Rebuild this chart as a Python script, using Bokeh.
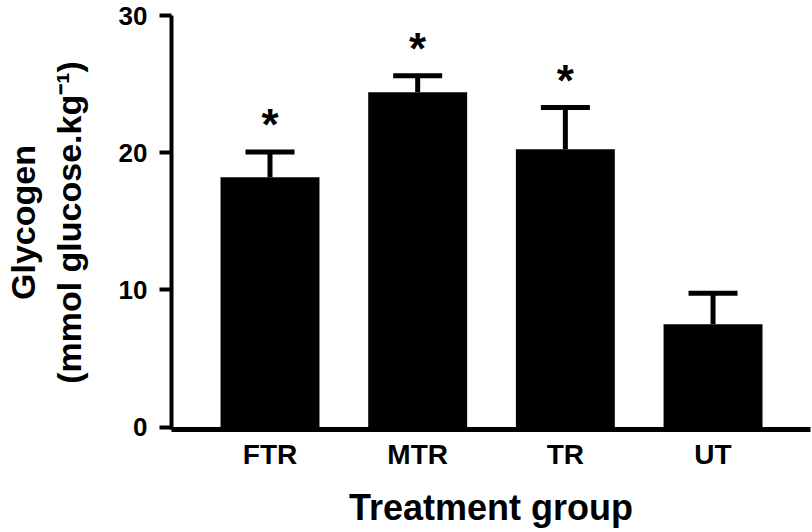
from bokeh.plotting import figure
from bokeh.models import ColumnDataSource, FixedTicker, Whisker, TeeHead, Range1d
from bokeh.core.properties import value
from bokeh.embed import file_html
from bokeh.resources import INLINE

# Data
groups = ["FTR", "MTR", "TR", "UT"]
means = [18.2, 24.4, 20.25, 7.5]
sems = [1.85, 1.2, 3.05, 2.25]
significant = [True, True, True, False]

xs = list(range(1, len(groups) + 1))
uppers = [m + s for m, s in zip(means, sems)]

src = ColumnDataSource(dict(x=xs, top=means, upper=uppers))

FONT = "Liberation Sans"

p = figure(width=812, height=532, output_backend="svg", toolbar_location=None,
           x_range=Range1d(0.333, 4.66), y_range=Range1d(-0.18, 30),
           min_border_left=171, min_border_right=2, min_border_top=15,
           min_border_bottom=103)
p.outline_line_color = None
p.xgrid.visible = False
p.ygrid.visible = False
p.background_fill_color = "white"

p.vbar(x="x", top="top", bottom=0, width=0.67, source=src,
       fill_color="black", line_color=None)

wh = Whisker(base="x", lower="top", upper="upper", source=src,
             lower_head=None,
             upper_head=TeeHead(size=49, line_width=5, line_color="black"),
             line_width=5, line_color="black")
p.add_layout(wh)

sx = [x for x, s in zip(xs, significant) if s]
sy = [u for u, s in zip(uppers, significant) if s]
p.text(x=sx, y=sy, text=["*"] * len(sx), text_align="center",
       text_baseline="alphabetic", y_offset=-27,
       text_font=value(FONT), text_font_style="bold",
       text_font_size="44px", text_color="black")

# Y axis
ya = p.yaxis[0]
ya.ticker = FixedTicker(ticks=[0, 10, 20, 30])
ya.minor_tick_line_color = None
ya.major_tick_in = 0
ya.major_tick_out = 12
ya.major_tick_line_width = 4
ya.major_tick_line_color = "black"
ya.axis_line_width = 4
ya.axis_line_color = "black"
ya.major_label_standoff = 12
ya.major_label_text_font = FONT
ya.major_label_text_font_style = "bold"
ya.major_label_text_font_size = "26px"
ya.major_label_text_color = "black"
ya.axis_label = "Glycogen\n(mmol glucose.kg\u207b\u00b9)"
ya.axis_label_text_font = FONT
ya.axis_label_text_font_style = "bold"
ya.axis_label_text_font_size = "34px"
ya.axis_label_text_color = "black"
ya.axis_label_standoff = 28

# X axis
xa = p.xaxis[0]
xa.ticker = FixedTicker(ticks=xs)
xa.major_label_overrides = {x: g for x, g in zip(xs, groups)}
xa.minor_tick_line_color = None
xa.major_tick_in = 0
xa.major_tick_out = 0
xa.axis_line_width = 5
xa.axis_line_color = "black"
xa.major_label_standoff = 9
xa.major_label_text_font = FONT
xa.major_label_text_font_style = "bold"
xa.major_label_text_font_size = "28px"
xa.major_label_text_color = "black"
xa.axis_label = "Treatment group"
xa.axis_label_text_font = FONT
xa.axis_label_text_font_style = "bold"
xa.axis_label_text_font_size = "36px"
xa.axis_label_text_color = "black"
xa.axis_label_standoff = 14

open("out.html", "w").write(file_html(p, INLINE))
